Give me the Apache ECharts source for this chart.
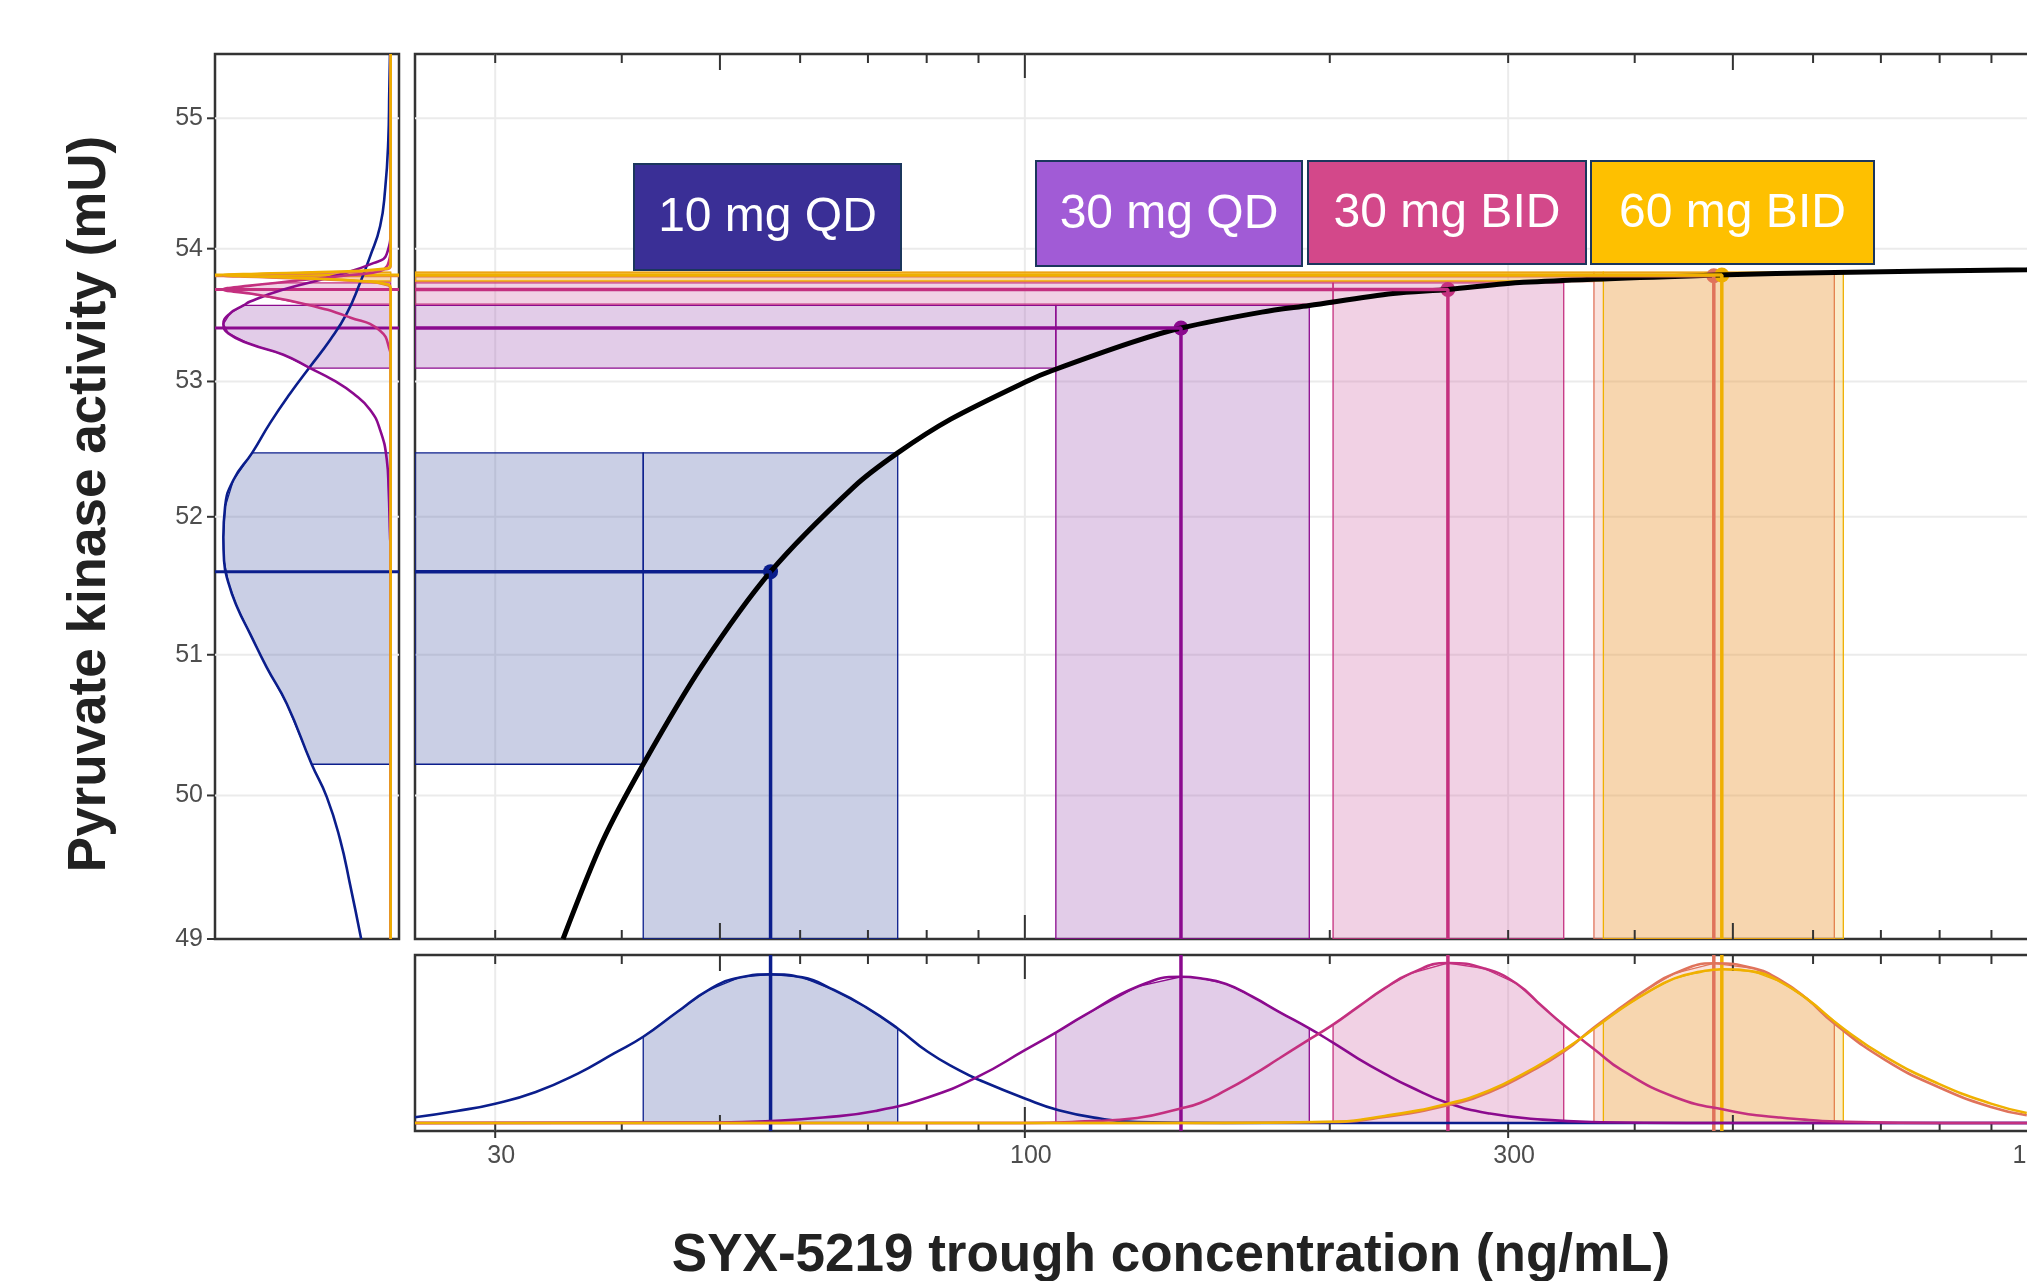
<!DOCTYPE html>
<html>
<head>
<meta charset="utf-8">
<title>SYX-5219 exposure-response</title>
<script src="https://cdn.jsdelivr.net/npm/echarts@6/dist/echarts.min.js"></script>
<style>
  html, body { margin: 0; padding: 0; overflow: hidden; background: #fff; }
  #main { width: 2130px; height: 1281px; }
</style>
</head>
<body>
<div id="main"></div>
<script>
// ---- data ----
// axis ticks
const xLogTicks = [30, 40, 50, 60, 70, 80, 90, 100, 200, 300, 400, 500, 600, 700, 800, 900, 1000];
const xLabelTicks = [30, 100, 300, 1000];
const xLabelText = ['30', '100', '300', '1,000'];
const yTicks = [49, 50, 51, 52, 53, 54, 55];

// regimens (salmon one has no label box)
const regimenKeys = ['10 mg QD', '30 mg QD', '30 mg BID', '60 mg BID (b)', '60 mg BID'];
const boxLabels = ['10 mg QD', '30 mg QD', '30 mg BID', '60 mg BID'];

// trough concentration: median and interval (ng/mL)
const concMed = [56.1, 142.6, 261.6, 478.8, 487.6];
const concLo  = [42.0, 107.3, 201.5, 364.6, 372.5];
const concHi  = [74.9, 190.9, 340.4, 629.7, 642.7];
// predicted PK activity (mU): median and interval
const respMed = [51.60, 53.40, 53.69, 53.795, 53.80];
const respLo  = [50.22, 53.10, 53.58, 53.75, 53.755];
const respHi  = [52.47, 53.57, 53.74, 53.82, 53.822];

// exposure-response curve [conc, activity]
const emaxCurve = [
  [35.0, 49.00], [38.3, 49.68], [42.0, 50.22], [48.0, 50.92], [56.1, 51.60], [67.8, 52.22],
  [74.9, 52.47], [84.5, 52.72], [101.0, 53.01], [106.3, 53.08], [127.3, 53.29], [142.6, 53.40],
  [171.4, 53.52], [190.9, 53.57], [230.9, 53.66], [261.6, 53.69], [310.6, 53.745], [483, 53.80],
  [630, 53.82], [975, 53.84], [1200, 53.85]
];

// concentration densities (scaled) [conc, density]
const densConc10QD = [[25, 0.036], [27.5, 0.075], [30, 0.121], [32.9, 0.194], [36.2, 0.309], [39.3, 0.435],
  [42.0, 0.539], [45.4, 0.695], [48.7, 0.831], [52.3, 0.910], [56.1, 0.929], [60.3, 0.910], [64.8, 0.831],
  [69.6, 0.726], [74.9, 0.591], [80.2, 0.445], [86.1, 0.330], [90.3, 0.267], [100, 0.153], [108, 0.080],
  [118.7, 0.028], [129.1, 0.006], [157.6, 0], [1200, 0]];
const densConc30QD = [[25, 0], [49.9, 0.003], [56.2, 0.012], [63.2, 0.034], [71.2, 0.075], [80.2, 0.160],
  [89.8, 0.288], [100, 0.455], [107.3, 0.565], [114.6, 0.674], [129.1, 0.852], [142.6, 0.914], [148.9, 0.905],
  [158, 0.869], [167.8, 0.789], [178.2, 0.695], [190.9, 0.591], [200.9, 0.507], [213.3, 0.403], [226.5, 0.309],
  [240.4, 0.225], [261.5, 0.125], [287.8, 0.059], [324.5, 0.021], [370.2, 0.005], [450, 0], [1200, 0]];
const densConc30BID = [[25, 0], [100, 0], [114.6, 0.010], [129.1, 0.031], [141.9, 0.088], [148.9, 0.125],
  [158, 0.205], [167.8, 0.299], [178.2, 0.403], [189.2, 0.507], [201.5, 0.615], [213.3, 0.726], [226.5, 0.841],
  [240.4, 0.935], [261.6, 1.0], [284.4, 0.965], [305.7, 0.872], [324.5, 0.726], [340.4, 0.612], [365.9, 0.455],
  [388.4, 0.330], [437.9, 0.163], [493.7, 0.080], [556.6, 0.034], [666.3, 0.006], [800, 0], [1200, 0]];
const densConc60BIDb = [[25, 0], [150, 0], [200.9, 0.006], [226.5, 0.038], [261.5, 0.111], [287.8, 0.194],
  [313.1, 0.309], [340.4, 0.445], [364.6, 0.597], [388.4, 0.726], [412.4, 0.841], [437.9, 0.935], [478.8, 0.998],
  [524.2, 0.967], [556.6, 0.894], [590.9, 0.779], [629.7, 0.622], [707.3, 0.393], [797.5, 0.225], [899, 0.100],
  [975.2, 0.048]];
const densConc60BID = [[25, 0], [150, 0], [200.9, 0.008], [226.5, 0.044], [261.5, 0.121], [287.8, 0.205],
  [313.1, 0.320], [340.4, 0.455], [372.5, 0.633], [388.4, 0.716], [412.4, 0.820], [437.9, 0.904], [465, 0.946],
  [487.6, 0.961], [524.2, 0.946], [556.6, 0.884], [590.9, 0.779], [642.7, 0.591], [707.3, 0.414], [797.5, 0.246],
  [899, 0.121], [975.2, 0.063]];

// activity densities (scaled) [density, activity]
const densResp10QD = [[0.176, 49.0], [0.243, 49.38], [0.302, 49.69], [0.382, 49.99], [0.472, 50.22], [0.621, 50.65],
  [0.741, 50.91], [0.840, 51.15], [0.920, 51.35], [0.970, 51.52], [0.996, 51.68], [1.0, 51.85], [0.990, 52.07],
  [0.940, 52.27], [0.828, 52.47], [0.721, 52.69], [0.601, 52.91], [0.482, 53.11], [0.362, 53.31], [0.262, 53.51],
  [0.183, 53.74], [0.123, 53.94], [0.063, 54.17], [0.033, 54.45], [0.014, 54.83], [0.008, 55.22], [0.004, 55.5]];
const densResp30QD = [[0, 49.0], [0, 51.80], [0.003, 51.84], [0.012, 52.20], [0.023, 52.42], [0.063, 52.64],
  [0.123, 52.79], [0.223, 52.91], [0.343, 53.01], [0.482, 53.10], [0.641, 53.20], [0.840, 53.28], [0.970, 53.36],
  [1.0, 53.43], [0.960, 53.51], [0.880, 53.57], [0.840, 53.60], [0.641, 53.69], [0.343, 53.79], [0.103, 53.89],
  [0.023, 53.96], [0, 54.17], [0, 55.5]];
const densResp30BID = [[0, 49.0], [0, 53.20], [0.004, 53.23], [0.063, 53.38], [0.243, 53.48], [0.51, 53.58],
  [0.840, 53.66], [1.0, 53.69], [0.840, 53.72], [0.69, 53.74], [0.542, 53.76], [0.243, 53.80], [0.063, 53.83],
  [0.004, 53.94], [0, 54.0], [0, 55.5]];
const densResp60BIDb = [[0, 49.0], [0, 53.69], [0.04, 53.73], [0.15, 53.75], [0.45, 53.77], [0.80, 53.785],
  [1.0, 53.795], [0.80, 53.805], [0.35, 53.82], [0.06, 53.84], [0, 53.87], [0, 55.5]];
const densResp60BID = [[0, 49.0], [0, 53.70], [0.04, 53.735], [0.18, 53.755], [0.50, 53.775], [0.82, 53.79],
  [1.0, 53.80], [0.80, 53.81], [0.42, 53.822], [0.06, 53.845], [0, 53.88], [0, 55.5]];

const densConc = [densConc10QD, densConc30QD, densConc30BID, densConc60BIDb, densConc60BID];
const densResp = [densResp10QD, densResp30QD, densResp30BID, densResp60BIDb, densResp60BID];

// ---- styling ----
const lineColors = ['#0B1E8C', '#8B0A8E', '#C4307F', '#E0735B', '#EFB000'];
const fillColors = ['rgba(78,95,168,0.30)', 'rgba(158,85,178,0.30)', 'rgba(208,102,165,0.30)',
  'rgba(230,110,80,0.20)', 'rgba(240,180,40,0.25)'];
const boxColors = ['#3A2F96', '#A15BD6', '#D3488A', '#FEC000'];
const boxRects = [[634, 164, 267, 106], [1036, 161, 266, 105], [1308, 161, 278, 103], [1591, 161, 283, 103]];
const INK = '#333333', GRID = '#EBEBEB', LABEL = '#4D4D4D';
const FONT = '"Liberation Sans", Arial, Helvetica, sans-serif';

const C_MIN = 25, C_MAX = 1200, R_MIN = 49, R_MAX = 55.5, D_MIN = -0.05, D_MAX = 1.05;

const chart = echarts.init(document.getElementById('main'));

function seg(x1, y1, x2, y2, stroke, w) {
  return { type: 'line', shape: { x1: x1, y1: y1, x2: x2, y2: y2 }, style: { stroke: stroke, lineWidth: w } };
}
function txt(x, y, s, align, vAlign, font, fill) {
  return { type: 'text', x: x, y: y, style: { text: s, font: font, fill: fill,
    align: align, verticalAlign: vAlign, textAlign: align, textVerticalAlign: vAlign } };
}
function tickLen(v) {
  const e = Math.log10(v);
  if (Math.abs(e - Math.round(e)) < 1e-9) return 24;
  const e5 = Math.log10(v / 5);
  if (Math.abs(e5 - Math.round(e5)) < 1e-9) return 16;
  return 9;
}
function deco(xi, yi, anchor, render) {
  return { type: 'custom', xAxisIndex: xi, yAxisIndex: yi, silent: true, clip: false,
    data: [anchor], renderItem: function (params, api) { return { type: 'group', children: render(api) }; } };
}
function polygon(xi, yi, pts, fill, stroke) {
  return { type: 'custom', xAxisIndex: xi, yAxisIndex: yi, silent: true, clip: true,
    data: [pts[0]],
    renderItem: function (params, api) {
      return { type: 'polygon', shape: { points: pts.map(function (p) { return api.coord(p); }) },
        style: { fill: fill, stroke: stroke, lineWidth: 1.3 } };
    } };
}
function line(xi, yi, data, color, width, smooth) {
  return { type: 'line', xAxisIndex: xi, yAxisIndex: yi, data: data, smooth: smooth || false,
    symbol: 'none', silent: true, clip: true, lineStyle: { color: color, width: width } };
}

const series = [];

// gridlines (inner breaks only)
series.push(deco(0, 0, [100, 50], function (api) {
  const bl = api.coord([C_MIN, R_MIN]), tr = api.coord([C_MAX, R_MAX]), ch = [];
  xLabelTicks.forEach(function (v) { const x = api.coord([v, R_MIN])[0]; ch.push(seg(x, tr[1], x, bl[1], GRID, 2)); });
  yTicks.forEach(function (v) {
    if (v <= R_MIN) return;
    const y = api.coord([C_MIN, v])[1]; ch.push(seg(bl[0], y, tr[0], y, GRID, 2));
  });
  return ch;
}));
series.push(deco(1, 1, [0.5, 50], function (api) {
  const l = api.coord([D_MAX, R_MIN])[0], r = api.coord([D_MIN, R_MIN])[0], ch = [];
  yTicks.forEach(function (v) {
    if (v <= R_MIN) return;
    const y = api.coord([0, v])[1]; ch.push(seg(l, y, r, y, GRID, 2));
  });
  return ch;
}));
series.push(deco(2, 2, [100, 0.5], function (api) {
  const b = api.coord([C_MIN, D_MIN])[1], t = api.coord([C_MIN, D_MAX])[1], ch = [];
  xLabelTicks.forEach(function (v) { const x = api.coord([v, 0])[0]; ch.push(seg(x, t, x, b, GRID, 2)); });
  return ch;
}));

// intervals: main panel bands, marginal shaded areas
for (let i = 0; i < 5; i++) {
  series.push(polygon(0, 0, [[C_MIN, respLo[i]], [concLo[i], respLo[i]], [concLo[i], respHi[i]], [C_MIN, respHi[i]]],
    fillColors[i], lineColors[i]));
  series.push(polygon(0, 0, [[concLo[i], R_MIN], [concHi[i], R_MIN], [concHi[i], respHi[i]], [concLo[i], respHi[i]]],
    fillColors[i], lineColors[i]));
  const leftPts = densResp[i].filter(function (p) { return p[1] >= respLo[i] - 1e-6 && p[1] <= respHi[i] + 1e-6; });
  series.push(polygon(1, 1, [[0, respLo[i]]].concat(leftPts, [[0, respHi[i]]]), fillColors[i], lineColors[i]));
  const botPts = densConc[i].filter(function (p) { return p[0] >= concLo[i] - 1e-6 && p[0] <= concHi[i] + 1e-6; });
  series.push(polygon(2, 2, [[concLo[i], 0]].concat(botPts, [[concHi[i], 0]]), fillColors[i], lineColors[i]));
}

// exposure-response curve
series.push(line(0, 0, emaxCurve, '#000000', 5, 0.3));

// reference lines
for (let i = 0; i < 5; i++) {
  series.push(line(0, 0, [[C_MIN, respMed[i]], [concMed[i], respMed[i]], [concMed[i], R_MIN]], lineColors[i], 3.5));
  series.push(line(1, 1, [[D_MIN, respMed[i]], [D_MAX, respMed[i]]], lineColors[i], 3));
  series.push(line(2, 2, [[concMed[i], D_MIN], [concMed[i], D_MAX]], lineColors[i], 3.5));
}

// densities
for (let i = 0; i < 5; i++) {
  series.push(line(1, 1, densResp[i], lineColors[i], 2.6, 0.5));
  series.push(line(2, 2, densConc[i], lineColors[i], 2.6, 0.5));
}

// medians
for (let i = 0; i < 5; i++) {
  series.push({ type: 'scatter', name: regimenKeys[i], xAxisIndex: 0, yAxisIndex: 0, silent: true,
    symbolSize: 15, data: [[concMed[i], respMed[i]]], itemStyle: { color: lineColors[i], opacity: 1 } });
}

// ticks and labels
series.push(deco(0, 0, [100, 50], function (api) {
  const b = api.coord([C_MIN, R_MIN])[1], t = api.coord([C_MIN, R_MAX])[1], ch = [];
  xLogTicks.forEach(function (v) {
    const x = api.coord([v, R_MIN])[0], L = tickLen(v);
    ch.push(seg(x, b, x, b - L, INK, 2));
    ch.push(seg(x, t, x, t + L, INK, 2));
  });
  return ch;
}));
series.push(deco(2, 2, [100, 0.5], function (api) {
  const b = api.coord([C_MIN, D_MIN])[1], t = api.coord([C_MIN, D_MAX])[1], ch = [];
  xLogTicks.forEach(function (v) {
    const x = api.coord([v, 0])[0], L = tickLen(v);
    ch.push(seg(x, b, x, b - L, INK, 2));
    ch.push(seg(x, t, x, t + L, INK, 2));
  });
  xLabelTicks.forEach(function (v, k) {
    const x = api.coord([v, 0])[0];
    ch.push(seg(x, b, x, b + 7, INK, 2));
    ch.push(txt(x + 6, b + 25, xLabelText[k], 'center', 'middle', '25px ' + FONT, LABEL));
  });
  return ch;
}));
series.push(deco(1, 1, [0.5, 50], function (api) {
  const l = api.coord([D_MAX, R_MIN])[0], ch = [];
  yTicks.forEach(function (v) {
    const y = api.coord([0, v])[1];
    ch.push(seg(l - 8, y, l, y, INK, 2));
    ch.push(txt(l - 12, y, String(v), 'right', 'middle', '25px ' + FONT, LABEL));
  });
  return ch;
}));

const hidden = { axisLine: { show: false }, axisTick: { show: false }, axisLabel: { show: false },
  splitLine: { show: false }, minorTick: { show: false } };
const frame = { show: true, borderColor: INK, borderWidth: 2.5, backgroundColor: 'transparent',
  containLabel: false, outerBoundsMode: 'none' };

const graphic = [];
boxLabels.forEach(function (s, i) {
  const r = boxRects[i];
  graphic.push({ type: 'rect', z: 100, shape: { x: r[0], y: r[1], width: r[2], height: r[3] },
    style: { fill: boxColors[i], stroke: '#1B365D', lineWidth: 2 } });
  graphic.push({ type: 'text', z: 101, x: r[0] + r[2] / 2, y: r[1] + r[3] / 2 + 1,
    style: { text: s, font: '48px ' + FONT, fill: '#FFFFFF', align: 'center', verticalAlign: 'middle',
      textAlign: 'center', textVerticalAlign: 'middle' } });
});
graphic.push({ type: 'text', x: 90, y: 504, rotation: Math.PI / 2,
  style: { text: 'Pyruvate kinase activity (mU)', font: 'bold 53px ' + FONT, fill: '#222222',
    align: 'center', verticalAlign: 'middle', textAlign: 'center', textVerticalAlign: 'middle' } });
graphic.push({ type: 'text', x: 1171, y: 1256,
  style: { text: 'SYX-5219 trough concentration (ng/mL)', font: 'bold 53px ' + FONT, fill: '#222222',
    align: 'center', verticalAlign: 'middle', textAlign: 'center', textVerticalAlign: 'middle' } });

chart.setOption({
  animation: false,
  backgroundColor: '#ffffff',
  grid: [
    Object.assign({ left: 415, top: 54, width: 1703, height: 885 }, frame),
    Object.assign({ left: 215, top: 54, width: 184, height: 885 }, frame),
    Object.assign({ left: 415, top: 955, width: 1703, height: 176 }, frame)
  ],
  xAxis: [
    Object.assign({ gridIndex: 0, type: 'log', logBase: 10, min: C_MIN, max: C_MAX }, hidden),
    Object.assign({ gridIndex: 1, type: 'value', min: D_MIN, max: D_MAX, inverse: true }, hidden),
    Object.assign({ gridIndex: 2, type: 'log', logBase: 10, min: C_MIN, max: C_MAX }, hidden)
  ],
  yAxis: [
    Object.assign({ gridIndex: 0, type: 'log', logBase: 10, min: R_MIN, max: R_MAX }, hidden),
    Object.assign({ gridIndex: 1, type: 'log', logBase: 10, min: R_MIN, max: R_MAX }, hidden),
    Object.assign({ gridIndex: 2, type: 'value', min: D_MIN, max: D_MAX }, hidden)
  ],
  graphic: graphic,
  series: series
});
</script>
</body>
</html>
